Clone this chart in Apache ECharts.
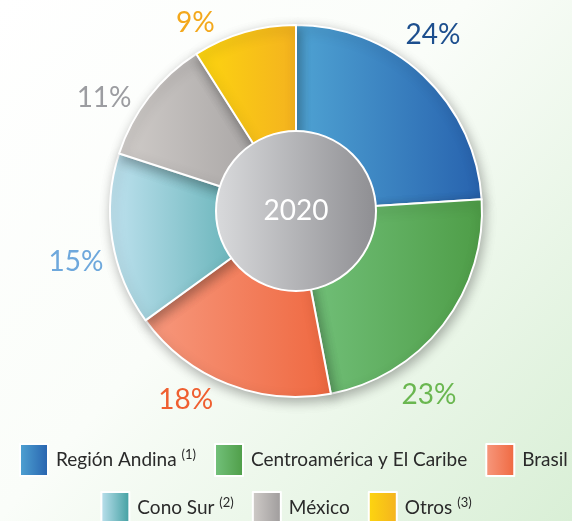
<!DOCTYPE html>
<html>
<head>
<meta charset="utf-8">
<script src="https://cdn.jsdelivr.net/npm/echarts@6/dist/echarts.min.js"></script>
<style>
  html, body { margin: 0; padding: 0; }
  #chart { width: 572px; height: 521px; }
</style>
</head>
<body>
<div id="chart"></div>
<script>
// data
const regions = ['Región Andina', 'Centroamérica y El Caribe', 'Brasil', 'Cono Sur', 'México', 'Otros']
const shares = [24, 23, 18, 15, 11, 9]
const notes = ['(1)', '', '', '(2)', '', '(3)']
const yearLabel = '2020'

// colores: degradado izquierda -> derecha, y color del porcentaje
const fills = [
  ['#4fa3d3', '#2762ae'],
  ['#74c27c', '#4e9d47'],
  ['#f7997e', '#ef6840'],
  ['#bfe2ef', '#3f9ea0'],
  ['#d0ccc9', '#9e9b9b'],
  ['#fdd60f', '#f4b21f']
]
const labelColors = ['#1d4f8e', '#6ab750', '#ef5f30', '#6ea8dc', '#9c9da1', '#f3a81c']
// ajuste a mano de las etiquetas (px)
const labelNudge = [[-31, -32], [-56, 63], [-5, 5], [8, 20], [-3, 8], [-21, 2]]

const grad = (c) => new echarts.graphic.LinearGradient(0, 0, 1, 0, [
  { offset: 0, color: c[0] },
  { offset: 1, color: c[1] }
])

const myChart = echarts.init(document.getElementById('chart'))

const pieData = regions.map((name, i) => ({
  name: name,
  value: shares[i],
  itemStyle: { color: grad(fills[i]) },
  label: { color: labelColors[i] }
}))

const legendText = {
  color: '#2a2a2a',
  fontFamily: 'Lato',
  fontSize: 19,
  padding: [0, 0, 0, 3],
  rich: {
    n: { fontFamily: 'Lato', fontSize: 19, color: '#2a2a2a' },
    s: { fontFamily: 'Lato', fontSize: 13, color: '#2a2a2a', padding: [0, 0, 10, 0] }
  }
}
const legendFormatter = (name) => {
  const n = notes[regions.indexOf(name)]
  return n ? '{n|' + name + '} {s|' + n + '}' : '{n|' + name + '}'
}

const option = {
  backgroundColor: new echarts.graphic.LinearGradient(0, 0, 1, 1, [
    { offset: 0, color: '#ffffff' },
    { offset: 0.45, color: '#fafdf9' },
    { offset: 1, color: '#d9efd6' }
  ]),
  legend: [
    {
      data: regions.slice(0, 3),
      left: 19,
      top: 443,
      width: 600,
      padding: 0,
      itemWidth: 28,
      itemHeight: 32,
      itemGap: 18,
      selectedMode: false,
      icon: 'rect',
      textStyle: legendText,
      formatter: legendFormatter
    },
    {
      data: regions.slice(3),
      left: 'center',
      top: 491,
      width: 600,
      padding: 0,
      itemWidth: 28,
      itemHeight: 32,
      itemGap: 18,
      selectedMode: false,
      icon: 'rect',
      textStyle: legendText,
      formatter: legendFormatter
    }
  ],
  series: [
    {
      type: 'pie',
      center: [296, 211],
      radius: [0, 186],
      startAngle: 90,
      clockwise: true,
      avoidLabelOverlap: false,
      silent: true,
      itemStyle: {
        borderColor: '#ffffff',
        borderWidth: 2,
        shadowBlur: 12,
        shadowOffsetX: 2,
        shadowOffsetY: 4,
        shadowColor: 'rgba(0,0,0,0.3)'
      },
      label: {
        show: true,
        position: 'outside',
        formatter: '{c}%',
        fontFamily: 'Lato',
        fontSize: 28
      },
      labelLine: { show: false, length: 12, length2: 0 },
      labelLayout: function (p) {
        return { dx: labelNudge[p.dataIndex][0], dy: labelNudge[p.dataIndex][1] }
      },
      data: pieData
    },
    {
      type: 'pie',
      center: [296, 211],
      radius: [0, 80],
      silent: true,
      itemStyle: {
        color: new echarts.graphic.LinearGradient(0, 0, 1, 0, [
          { offset: 0, color: '#d9dadc' },
          { offset: 1, color: '#8e8e92' }
        ]),
        borderColor: '#ffffff',
        borderWidth: 2
      },
      label: {
        show: true,
        position: 'center',
        formatter: yearLabel,
        color: '#ffffff',
        fontFamily: 'Lato',
        fontSize: 28,
        padding: [6, 0, 0, 0]
      },
      labelLine: { show: false },
      data: [{ name: yearLabel, value: 1 }]
    }
  ]
}
myChart.setOption(option)
</script>
</body>
</html>
